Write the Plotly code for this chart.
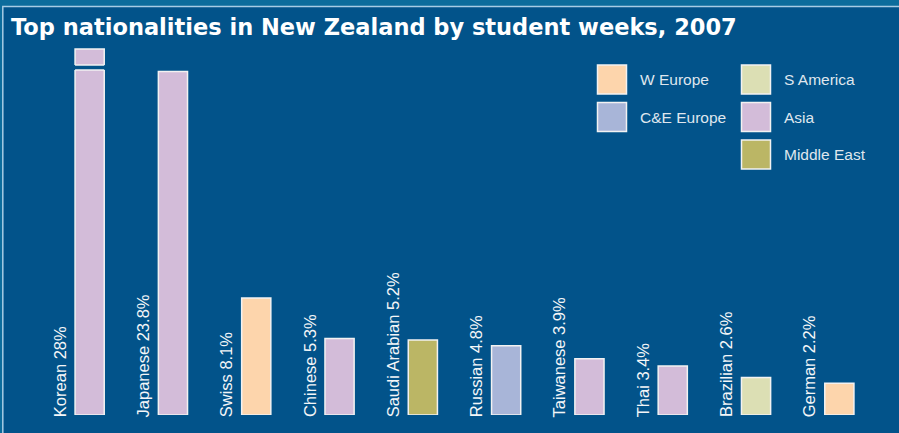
import plotly.graph_objects as go

# ---------------- data ----------------
countries = ["Korean", "Japanese", "Swiss", "Chinese", "Saudi Arabian",
             "Russian", "Taiwanese", "Thai", "Brazilian", "German"]
shares = [28, 23.8, 8.1, 5.3, 5.2, 4.8, 3.9, 3.4, 2.6, 2.2]
regions = ["Asia", "Asia", "W Europe", "Asia", "Middle East",
           "C&E Europe", "Asia", "Asia", "S America", "W Europe"]
legend_columns = [["W Europe", "C&E Europe"],
                  ["S America", "Asia", "Middle East"]]
title_text = "Top nationalities in New Zealand by student weeks, 2007"

# ---------------- style ----------------
region_colors = {
    "W Europe": "#fdd5ac",
    "C&E Europe": "#a8b5d8",
    "S America": "#dcdfb4",
    "Asia": "#d3bcd9",
    "Middle East": "#bbb665",
}
W, H = 899, 433
ML, MR, MT, MB = 48, 18, 48, 18
BG = "#02538a"
BAND = "#0c6c9c"
FRAME = "#a8cce4"
OUTLINE = "#f2f2f2"
FONT = "Liberation Sans, Arial, sans-serif"
TITLE_FONT = "DejaVu Sans, Liberation Sans, sans-serif"
BARGAP = 0.65
BW = 1 - BARGAP


def px_x(px):
    return (px - ML) / (W - ML - MR)


def px_y(py):
    return (H - MB - py) / (H - MT - MB)


main_top = 23.9          # axis break: upper limit of the main scale
upper_range = [27.0, 28.06]
main_dom_top = px_y(70)
upper_dom_bot = px_y(65)

colors = [region_colors[r] for r in regions]

fig = go.Figure()
fig.add_bar(
    x=countries, y=shares, yaxis="y",
    marker=dict(color=colors, line=dict(color=OUTLINE, width=1.5)),
    hovertemplate="%{x}: %{y}%<extra></extra>",
)
big = [(c, v, col) for c, v, col in zip(countries, shares, colors) if v > main_top]
fig.add_bar(
    x=[b[0] for b in big], y=[b[1] for b in big], yaxis="y2",
    marker=dict(color=[b[2] for b in big], line=dict(color=OUTLINE, width=1.5)),
    hovertemplate="%{x}: %{y}%<extra></extra>",
)

shapes = [
    dict(type="rect", xref="paper", yref="paper",
         x0=px_x(-5), x1=px_x(W + 5), y0=px_y(H + 5), y1=px_y(-5),
         fillcolor=BAND, line=dict(width=0), layer="below"),
    dict(type="rect", xref="paper", yref="paper",
         x0=px_x(2.8), x1=px_x(W + 10), y0=px_y(H + 10), y1=px_y(6.5),
         fillcolor=BG, line=dict(color=FRAME, width=1.5), layer="below"),
]
# white edges at the axis break
for c, v, col in big:
    i = countries.index(c)
    for yy in (main_dom_top, upper_dom_bot):
        shapes.append(dict(type="line", xref="x", yref="paper",
                           x0=i - BW / 2, x1=i + BW / 2, y0=yy, y1=yy,
                           line=dict(color=OUTLINE, width=1.5)))

annotations = [
    dict(text=title_text, xref="paper", yref="paper",
         x=px_x(9), y=px_y(26.5), xanchor="left", yanchor="middle",
         showarrow=False,
         font=dict(family=TITLE_FONT, size=22.5, color="white", weight="bold")),
]
for c, v in zip(countries, shares):
    annotations.append(dict(
        text=f"{c} {v:g}%", x=c, y=0, xref="x", yref="y",
        textangle=-90, xanchor="center", yanchor="bottom",
        xshift=-30, yshift=-4, showarrow=False,
        font=dict(family=FONT, size=16.5, color="#f4f6f8")))

# legend drawn manually (two columns)
col_x = [597.5, 741.5]
row_y = [65, 102.5, 140]
box = 29
for ci, col in enumerate(legend_columns):
    for ri, reg in enumerate(col):
        x0, y0 = col_x[ci], row_y[ri]
        shapes.append(dict(type="rect", xref="paper", yref="paper",
                           x0=px_x(x0), x1=px_x(x0 + box),
                           y0=px_y(y0 + box), y1=px_y(y0),
                           fillcolor=region_colors[reg],
                           line=dict(color=OUTLINE, width=1.5)))
        annotations.append(dict(
            text=reg, xref="paper", yref="paper",
            x=px_x(x0 + box + 11), y=px_y(y0 + box / 2),
            xanchor="left", yanchor="middle", showarrow=False,
            font=dict(family=FONT, size=15.5, color="#dfe6ee")))

fig.update_layout(
    width=W, height=H,
    margin=dict(l=ML, r=MR, t=MT, b=MB, pad=0),
    paper_bgcolor=BG, plot_bgcolor="rgba(0,0,0,0)",
    showlegend=False, barmode="overlay", bargap=BARGAP,
    xaxis=dict(showticklabels=False, showgrid=False, zeroline=False,
               showline=False, ticks="", fixedrange=True),
    yaxis=dict(domain=[0, main_dom_top], range=[0, main_top],
               showticklabels=False, showgrid=False, zeroline=False,
               showline=False, ticks=""),
    yaxis2=dict(domain=[upper_dom_bot, 1], range=upper_range, anchor="x",
                showticklabels=False, showgrid=False, zeroline=False,
                showline=False, ticks=""),
    shapes=shapes, annotations=annotations,
)

fig.write_html(
    "out.html",
    config={"displayModeBar": False},
    post_script="document.body.style.margin='0';"
                "document.body.style.overflow='hidden';",
)
